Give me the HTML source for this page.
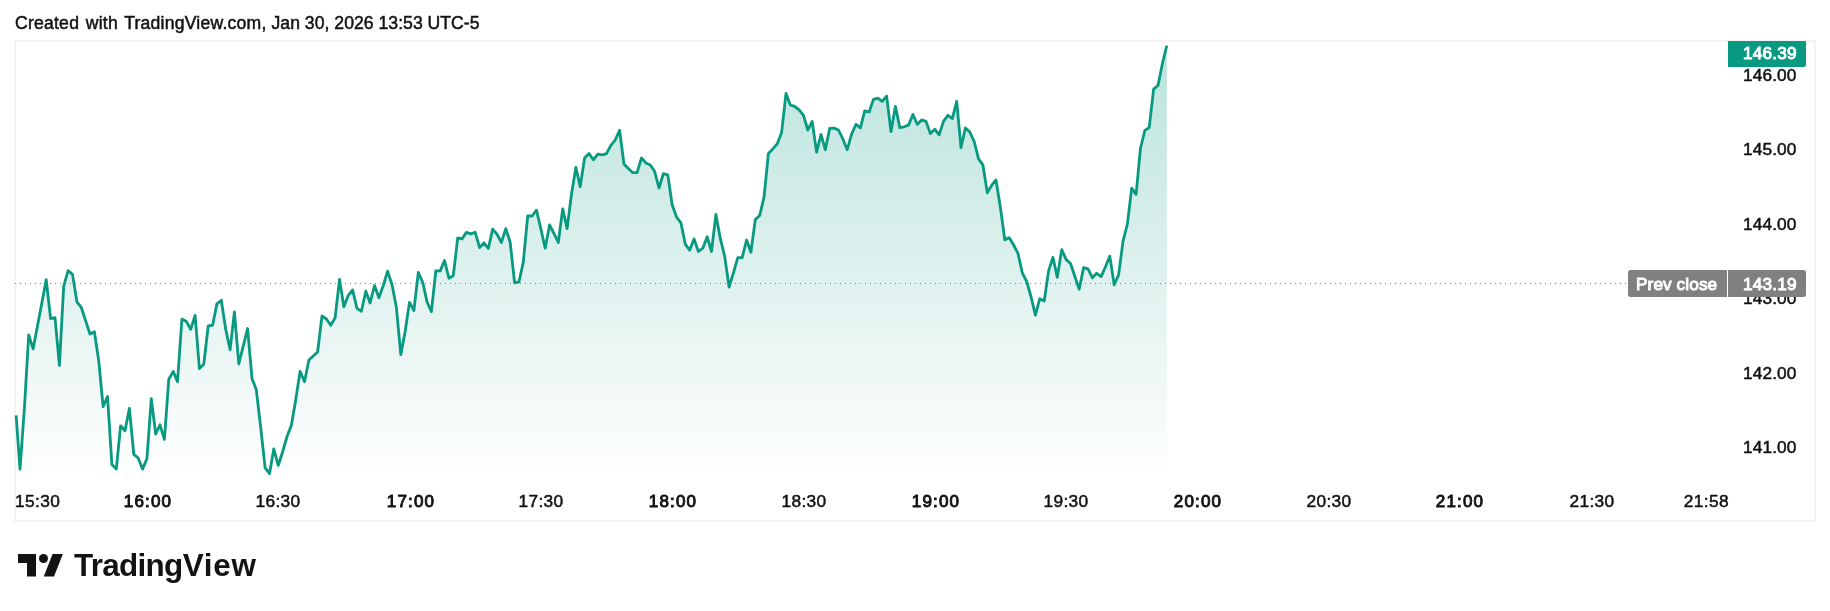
<!DOCTYPE html>
<html lang="en"><head><meta charset="utf-8"><title>TradingView chart snapshot</title>
<style>
html,body{margin:0;padding:0;background:#fff;}
body{width:1830px;height:611px;overflow:hidden;position:relative;font-family:"Liberation Sans", sans-serif;color:#111214;}
.abs{position:absolute;white-space:nowrap;will-change:transform;}
.hdr{left:14.8px;top:12.9px;font-size:17.6px;line-height:20px;-webkit-text-stroke:0.5px currentColor;}
.pl{left:1743.2px;width:60px;text-align:left;font-size:17.3px;line-height:20px;height:20px;letter-spacing:0.1px;-webkit-text-stroke:0.5px currentColor;}
.tl{font-size:17.3px;line-height:20px;height:20px;top:490.7px;letter-spacing:0.4px;text-align:center;width:80px;-webkit-text-stroke:0.5px currentColor;}
.tl.b{top:491.75px;font-size:17.0px;letter-spacing:1.15px;-webkit-text-stroke:0.95px currentColor;}
.tag{color:#fff;font-size:17.2px;line-height:20px;box-sizing:border-box;-webkit-text-stroke:0.95px currentColor;}
.logo{left:73.5px;top:548.0px;font-size:31.4px;line-height:36px;font-weight:bold;color:#131313;}
svg{position:absolute;left:0;top:0;}
</style></head><body>
<svg width="1830" height="611" viewBox="0 0 1830 611">
<defs><linearGradient id="g" gradientUnits="userSpaceOnUse" x1="0" y1="42" x2="0" y2="480">
<stop offset="0" stop-color="#089981" stop-opacity="0.28"/><stop offset="1" stop-color="#089981" stop-opacity="0"/></linearGradient></defs>
<rect x="15" y="41" width="1800" height="480" fill="none" stroke="#f3f3f3" stroke-width="2"/>
<path d="M16.1 415.3 L20.0 469.1 L24.4 408.0 L28.7 335.0 L33.1 348.9 L37.5 325.8 L41.9 302.7 L46.2 279.6 L50.6 318.6 L55.0 317.6 L59.4 365.4 L63.7 286.2 L68.1 270.6 L72.5 274.4 L76.9 301.8 L81.3 307.5 L85.6 320.6 L90.0 334.0 L94.4 331.7 L98.8 361.3 L103.1 406.8 L107.5 396.5 L111.9 464.5 L116.3 469.1 L120.6 425.8 L125.0 430.7 L129.4 408.3 L133.8 454.4 L138.2 458.0 L142.5 469.1 L146.9 458.8 L151.3 398.6 L155.7 434.0 L160.0 424.8 L164.4 439.3 L168.8 379.2 L173.2 371.4 L177.5 381.7 L181.9 319.1 L186.3 321.4 L190.7 329.3 L195.1 315.4 L199.4 368.6 L203.8 364.0 L208.2 326.0 L212.6 325.2 L216.9 303.9 L221.3 300.2 L225.7 329.3 L230.1 349.8 L234.4 311.8 L238.8 364.0 L243.2 346.2 L247.6 328.5 L252.0 378.4 L256.3 389.8 L260.7 427.5 L265.1 467.6 L269.5 473.7 L273.8 448.8 L278.2 465.5 L282.6 452.0 L287.0 436.5 L291.4 425.3 L295.7 400.0 L300.1 371.3 L304.5 381.7 L308.9 360.1 L313.2 356.0 L317.6 352.0 L322.0 315.8 L326.4 319.0 L330.7 325.3 L335.1 317.9 L339.5 279.4 L343.9 306.8 L348.3 295.3 L352.6 289.9 L357.0 308.4 L361.4 311.2 L365.8 291.2 L370.1 303.0 L374.5 285.5 L378.9 297.7 L383.3 285.5 L387.6 271.2 L392.0 284.6 L396.4 307.6 L400.8 354.7 L405.2 331.3 L409.5 302.3 L413.9 310.5 L418.3 272.4 L422.7 282.2 L427.0 301.8 L431.4 311.7 L435.8 271.0 L440.2 270.9 L444.5 260.5 L448.9 278.2 L453.3 275.7 L457.7 237.9 L462.1 238.9 L466.4 232.3 L470.8 233.8 L475.2 232.3 L479.6 247.7 L483.9 242.8 L488.3 248.5 L492.7 229.1 L497.1 234.3 L501.4 242.5 L505.8 228.6 L510.2 242.5 L514.6 282.9 L519.0 281.8 L523.3 262.1 L527.7 216.0 L532.1 216.0 L536.5 210.2 L540.8 228.6 L545.2 248.2 L549.6 225.0 L554.0 233.5 L558.3 242.5 L562.7 208.9 L567.1 228.6 L571.5 194.0 L575.9 167.5 L580.2 186.8 L584.6 158.0 L589.0 153.6 L593.4 159.8 L597.7 154.1 L602.1 154.9 L606.5 153.6 L610.9 145.4 L615.2 140.0 L619.6 130.3 L624.0 164.2 L628.4 168.6 L632.8 172.7 L637.1 172.7 L641.5 158.0 L645.9 162.9 L650.3 165.0 L654.6 171.3 L659.0 188.0 L663.4 173.7 L667.8 174.9 L672.1 204.5 L676.5 217.0 L680.9 222.8 L685.3 244.1 L689.7 250.3 L694.0 238.9 L698.4 251.5 L702.8 248.2 L707.2 236.8 L711.5 251.5 L715.9 214.4 L720.3 238.4 L724.7 256.4 L729.1 287.0 L733.4 272.8 L737.8 257.6 L742.2 257.6 L746.6 240.0 L750.9 252.3 L755.3 219.6 L759.7 215.5 L764.1 196.6 L768.4 153.4 L772.8 148.9 L777.2 143.9 L781.6 132.5 L786.0 93.5 L790.3 105.0 L794.7 106.3 L799.1 109.9 L803.5 115.3 L807.8 130.0 L812.2 121.4 L816.6 152.1 L821.0 134.5 L825.3 149.7 L829.7 128.4 L834.1 128.1 L838.5 130.0 L842.9 139.0 L847.2 149.7 L851.6 134.1 L856.0 124.3 L860.4 127.9 L864.7 110.9 L869.1 112.0 L873.5 99.4 L877.9 98.1 L882.2 101.4 L886.6 96.1 L891.0 131.7 L895.4 106.3 L899.8 127.6 L904.1 126.8 L908.5 125.1 L912.9 114.5 L917.3 124.3 L921.6 119.9 L926.0 121.4 L930.4 133.6 L934.8 129.2 L939.1 134.9 L943.5 121.4 L947.9 115.3 L952.3 118.6 L956.7 101.4 L961.0 147.7 L965.4 127.9 L969.8 132.0 L974.2 141.5 L978.5 158.8 L982.9 164.8 L987.3 192.9 L991.7 185.2 L996.0 180.0 L1000.4 207.5 L1004.8 239.9 L1009.2 237.6 L1013.6 245.0 L1017.9 253.2 L1022.3 272.8 L1026.7 281.5 L1031.1 297.0 L1035.4 315.1 L1039.8 298.7 L1044.2 301.1 L1048.6 270.8 L1052.9 257.3 L1057.3 277.4 L1061.7 249.6 L1066.1 259.4 L1070.5 263.5 L1074.8 276.3 L1079.2 289.2 L1083.6 267.6 L1088.0 268.9 L1092.3 277.7 L1096.7 273.3 L1101.1 276.6 L1105.5 266.8 L1109.8 256.1 L1114.2 284.8 L1118.6 274.9 L1123.0 241.4 L1127.4 224.0 L1131.7 188.1 L1136.1 194.4 L1140.5 148.0 L1144.9 130.4 L1149.2 127.6 L1153.6 89.1 L1158.0 85.5 L1162.4 63.7 L1166.8 45.7 L1166.8 480 L16.1 480 Z" fill="url(#g)" stroke="none"/>
<line x1="15" y1="283.5" x2="1627" y2="283.5" stroke="#808080" stroke-width="1" stroke-dasharray="1 4"/>
<path d="M16.1 415.3 L20.0 469.1 L24.4 408.0 L28.7 335.0 L33.1 348.9 L37.5 325.8 L41.9 302.7 L46.2 279.6 L50.6 318.6 L55.0 317.6 L59.4 365.4 L63.7 286.2 L68.1 270.6 L72.5 274.4 L76.9 301.8 L81.3 307.5 L85.6 320.6 L90.0 334.0 L94.4 331.7 L98.8 361.3 L103.1 406.8 L107.5 396.5 L111.9 464.5 L116.3 469.1 L120.6 425.8 L125.0 430.7 L129.4 408.3 L133.8 454.4 L138.2 458.0 L142.5 469.1 L146.9 458.8 L151.3 398.6 L155.7 434.0 L160.0 424.8 L164.4 439.3 L168.8 379.2 L173.2 371.4 L177.5 381.7 L181.9 319.1 L186.3 321.4 L190.7 329.3 L195.1 315.4 L199.4 368.6 L203.8 364.0 L208.2 326.0 L212.6 325.2 L216.9 303.9 L221.3 300.2 L225.7 329.3 L230.1 349.8 L234.4 311.8 L238.8 364.0 L243.2 346.2 L247.6 328.5 L252.0 378.4 L256.3 389.8 L260.7 427.5 L265.1 467.6 L269.5 473.7 L273.8 448.8 L278.2 465.5 L282.6 452.0 L287.0 436.5 L291.4 425.3 L295.7 400.0 L300.1 371.3 L304.5 381.7 L308.9 360.1 L313.2 356.0 L317.6 352.0 L322.0 315.8 L326.4 319.0 L330.7 325.3 L335.1 317.9 L339.5 279.4 L343.9 306.8 L348.3 295.3 L352.6 289.9 L357.0 308.4 L361.4 311.2 L365.8 291.2 L370.1 303.0 L374.5 285.5 L378.9 297.7 L383.3 285.5 L387.6 271.2 L392.0 284.6 L396.4 307.6 L400.8 354.7 L405.2 331.3 L409.5 302.3 L413.9 310.5 L418.3 272.4 L422.7 282.2 L427.0 301.8 L431.4 311.7 L435.8 271.0 L440.2 270.9 L444.5 260.5 L448.9 278.2 L453.3 275.7 L457.7 237.9 L462.1 238.9 L466.4 232.3 L470.8 233.8 L475.2 232.3 L479.6 247.7 L483.9 242.8 L488.3 248.5 L492.7 229.1 L497.1 234.3 L501.4 242.5 L505.8 228.6 L510.2 242.5 L514.6 282.9 L519.0 281.8 L523.3 262.1 L527.7 216.0 L532.1 216.0 L536.5 210.2 L540.8 228.6 L545.2 248.2 L549.6 225.0 L554.0 233.5 L558.3 242.5 L562.7 208.9 L567.1 228.6 L571.5 194.0 L575.9 167.5 L580.2 186.8 L584.6 158.0 L589.0 153.6 L593.4 159.8 L597.7 154.1 L602.1 154.9 L606.5 153.6 L610.9 145.4 L615.2 140.0 L619.6 130.3 L624.0 164.2 L628.4 168.6 L632.8 172.7 L637.1 172.7 L641.5 158.0 L645.9 162.9 L650.3 165.0 L654.6 171.3 L659.0 188.0 L663.4 173.7 L667.8 174.9 L672.1 204.5 L676.5 217.0 L680.9 222.8 L685.3 244.1 L689.7 250.3 L694.0 238.9 L698.4 251.5 L702.8 248.2 L707.2 236.8 L711.5 251.5 L715.9 214.4 L720.3 238.4 L724.7 256.4 L729.1 287.0 L733.4 272.8 L737.8 257.6 L742.2 257.6 L746.6 240.0 L750.9 252.3 L755.3 219.6 L759.7 215.5 L764.1 196.6 L768.4 153.4 L772.8 148.9 L777.2 143.9 L781.6 132.5 L786.0 93.5 L790.3 105.0 L794.7 106.3 L799.1 109.9 L803.5 115.3 L807.8 130.0 L812.2 121.4 L816.6 152.1 L821.0 134.5 L825.3 149.7 L829.7 128.4 L834.1 128.1 L838.5 130.0 L842.9 139.0 L847.2 149.7 L851.6 134.1 L856.0 124.3 L860.4 127.9 L864.7 110.9 L869.1 112.0 L873.5 99.4 L877.9 98.1 L882.2 101.4 L886.6 96.1 L891.0 131.7 L895.4 106.3 L899.8 127.6 L904.1 126.8 L908.5 125.1 L912.9 114.5 L917.3 124.3 L921.6 119.9 L926.0 121.4 L930.4 133.6 L934.8 129.2 L939.1 134.9 L943.5 121.4 L947.9 115.3 L952.3 118.6 L956.7 101.4 L961.0 147.7 L965.4 127.9 L969.8 132.0 L974.2 141.5 L978.5 158.8 L982.9 164.8 L987.3 192.9 L991.7 185.2 L996.0 180.0 L1000.4 207.5 L1004.8 239.9 L1009.2 237.6 L1013.6 245.0 L1017.9 253.2 L1022.3 272.8 L1026.7 281.5 L1031.1 297.0 L1035.4 315.1 L1039.8 298.7 L1044.2 301.1 L1048.6 270.8 L1052.9 257.3 L1057.3 277.4 L1061.7 249.6 L1066.1 259.4 L1070.5 263.5 L1074.8 276.3 L1079.2 289.2 L1083.6 267.6 L1088.0 268.9 L1092.3 277.7 L1096.7 273.3 L1101.1 276.6 L1105.5 266.8 L1109.8 256.1 L1114.2 284.8 L1118.6 274.9 L1123.0 241.4 L1127.4 224.0 L1131.7 188.1 L1136.1 194.4 L1140.5 148.0 L1144.9 130.4 L1149.2 127.6 L1153.6 89.1 L1158.0 85.5 L1162.4 63.7 L1166.8 45.7" fill="none" stroke="#089981" stroke-width="2.8" stroke-linejoin="round" stroke-linecap="butt"/>
<g fill="#131313"><path d="M18 554H36V576.5H27V563H18Z"/><circle cx="43.5" cy="558.5" r="4.5"/><path d="M52.6 554H62.9L54 576.5H43.75Z"/></g>
</svg>
<div class="abs hdr"><span style="letter-spacing:0.22px;word-spacing:1.5px">Created with TradingView.com,</span><span style="letter-spacing:0.03px"> Jan 30, 2026 13:53 UTC-5</span></div>

<div class="abs pl" style="top:65.13px">146.00</div>
<div class="abs pl" style="top:139.13px">145.00</div>
<div class="abs pl" style="top:214.13px">144.00</div>
<div class="abs pl" style="top:288.13px">143.00</div>
<div class="abs pl" style="top:363.13px">142.00</div>
<div class="abs pl" style="top:437.13px">141.00</div>
<div class="abs" style="left:1728px;top:41px;width:78px;height:26px;background:#089981;border-radius:0 1px 2.5px 0"></div>
<div class="abs" style="left:1628px;top:270px;width:98.8px;height:27px;background:#808080;border-radius:2.5px 0 0 2.5px"></div>
<div class="abs" style="left:1728px;top:270px;width:78px;height:27px;background:#808080;border-radius:0 2.5px 2.5px 0"></div>
<div class="abs tag" style="left:1743px;top:43.3px;letter-spacing:0.2px">146.39</div>
<div class="abs tag" style="left:1635.5px;top:273.7px;letter-spacing:0.1px">Prev close</div>
<div class="abs tag" style="left:1743px;top:273.7px;letter-spacing:0.2px">143.19</div>
<div class="abs tl" style="left:15.3px;text-align:left">15:30</div>
<div class="abs tl b" style="left:107.9px">16:00</div>
<div class="abs tl" style="left:238.4px">16:30</div>
<div class="abs tl b" style="left:370.6px">17:00</div>
<div class="abs tl" style="left:501.2px">17:30</div>
<div class="abs tl b" style="left:632.7px">18:00</div>
<div class="abs tl" style="left:764.0px">18:30</div>
<div class="abs tl b" style="left:895.6px">19:00</div>
<div class="abs tl" style="left:1026.3px">19:30</div>
<div class="abs tl b" style="left:1157.6px">20:00</div>
<div class="abs tl" style="left:1288.7px">20:30</div>
<div class="abs tl b" style="left:1420.4px">21:00</div>
<div class="abs tl" style="left:1551.6px">21:30</div>
<div class="abs tl" style="left:1649.3px;text-align:right">21:58</div>
<div class="abs logo"><span style="letter-spacing:-0.7px">Trading</span><span style="letter-spacing:0.8px;margin-left:0.2px">View</span></div>
</body></html>
